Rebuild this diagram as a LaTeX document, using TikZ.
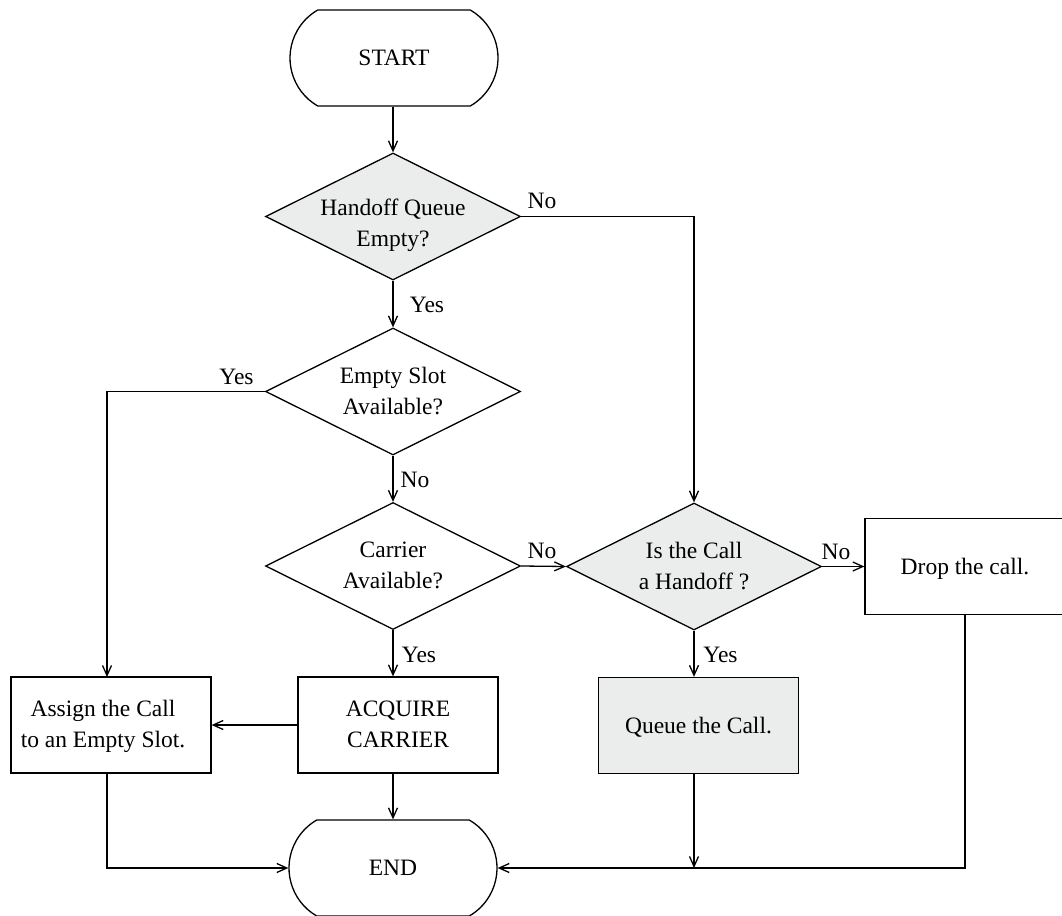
\documentclass[tikz,border=0pt]{standalone}
\usepackage{fontspec}
\setmainfont{Liberation Serif}
\usetikzlibrary{shapes.geometric,shapes.misc,arrows.meta}
\definecolor{fillg}{RGB}{235,236,236}
\newcommand\dtxt[2]{\raisebox{#1}[0pt][0pt]{\makebox[0pt]{\begin{tabular}{@{}c@{}}#2\end{tabular}}}}
\begin{document}
\begin{tikzpicture}[x=1pt,y=-1pt, line width=1.3pt,
  every node/.style={font=\fontsize{23.5}{31}\selectfont, inner sep=0pt},
  term/.style={draw, rounded rectangle, rounded rectangle arc length=120, minimum width=208pt, minimum height=96pt},
  dec/.style={draw, diamond, minimum width=255pt, minimum height=127pt},
  decg/.style={dec, fill=fillg},
  proc/.style={draw, rectangle, minimum width=200pt, minimum height=96pt},
  procg/.style={proc, fill=fillg},
  arr/.style={-{Straight Barb[length=10pt,width=9pt]}}
]
\useasboundingbox (0,0) rectangle (1062,915);

\node[term] (start) at (394,58) {\dtxt{-7.7pt}{START}};
\node[decg] (d1) at (393,216.5) {\dtxt{-15pt}{Handoff Queue\\Empty?}};
\node[dec] (d2) at (393,391.5) {\dtxt{-7.2pt}{Empty Slot\\Available?}};
\node[dec] (d3) at (393,566) {\dtxt{-7.2pt}{Carrier\\Available?}};
\node[decg] (d4) at (694,566.5) {\dtxt{-7.2pt}{Is the Call\\a Handoff ?}};
\node[proc] (drop) at (965,566.5) {\dtxt{-7.7pt}{Drop the call.}};
\node[proc] (assign) at (111,725) {\raisebox{-7.2pt}[0pt][0pt]{\makebox[0pt]{\hspace*{-16pt}\begin{tabular}{@{}c@{}}Assign the Call\\to an Empty Slot.\end{tabular}}}};
\node[proc] (acq) at (398,725) {\dtxt{-7.2pt}{ACQUIRE\\CARRIER}};
\node[procg] (queue) at (698.5,725.5) {\dtxt{-7.7pt}{Queue the Call.}};
\node[term] (end) at (393,868) {\dtxt{-7.7pt}{END}};

\coordinate (aIn) at (107,677);
\coordinate (qOut) at (d4.south |- end.east);

\draw[arr] (d1.north |- start.south) -- (d1.north);
\draw[arr] (d1.east) -| (d4.north);
\draw[arr] (d1.south) -- (d2.north);
\draw[arr] (d2.west) -| (aIn);
\draw[arr] (d2.south) -- (d3.north);
\draw[arr] (d3.east) -- (d4.west);
\draw[arr] (d3.south) -- (d3.south |- acq.north);
\draw[arr] (acq.west) -- (assign.east);
\draw[arr] (aIn |- assign.south) |- (end.west);
\draw[arr] (d3.south |- acq.south) -- (end.north);
\draw[arr] (d4.east) -- (drop.west);
\draw[arr] (d4.south) -- (d4.south |- queue.north);
\draw[arr] (d4.south |- queue.south) -- (qOut);
\draw[arr] (drop.south) |- (end.east);

\node (l1) at (542,200.5) {No};
\node (l2) at (427,305) {Yes};
\node (l3) at (236.5,377) {Yes};
\node (l4) at (415,480) {No};
\node (l5) at (542,551) {No};
\node (l6) at (836,552) {No};
\node (l7) at (720.5,654.5) {Yes};
\node (l8) at (419,654.5) {Yes};
\end{tikzpicture}
\end{document}
